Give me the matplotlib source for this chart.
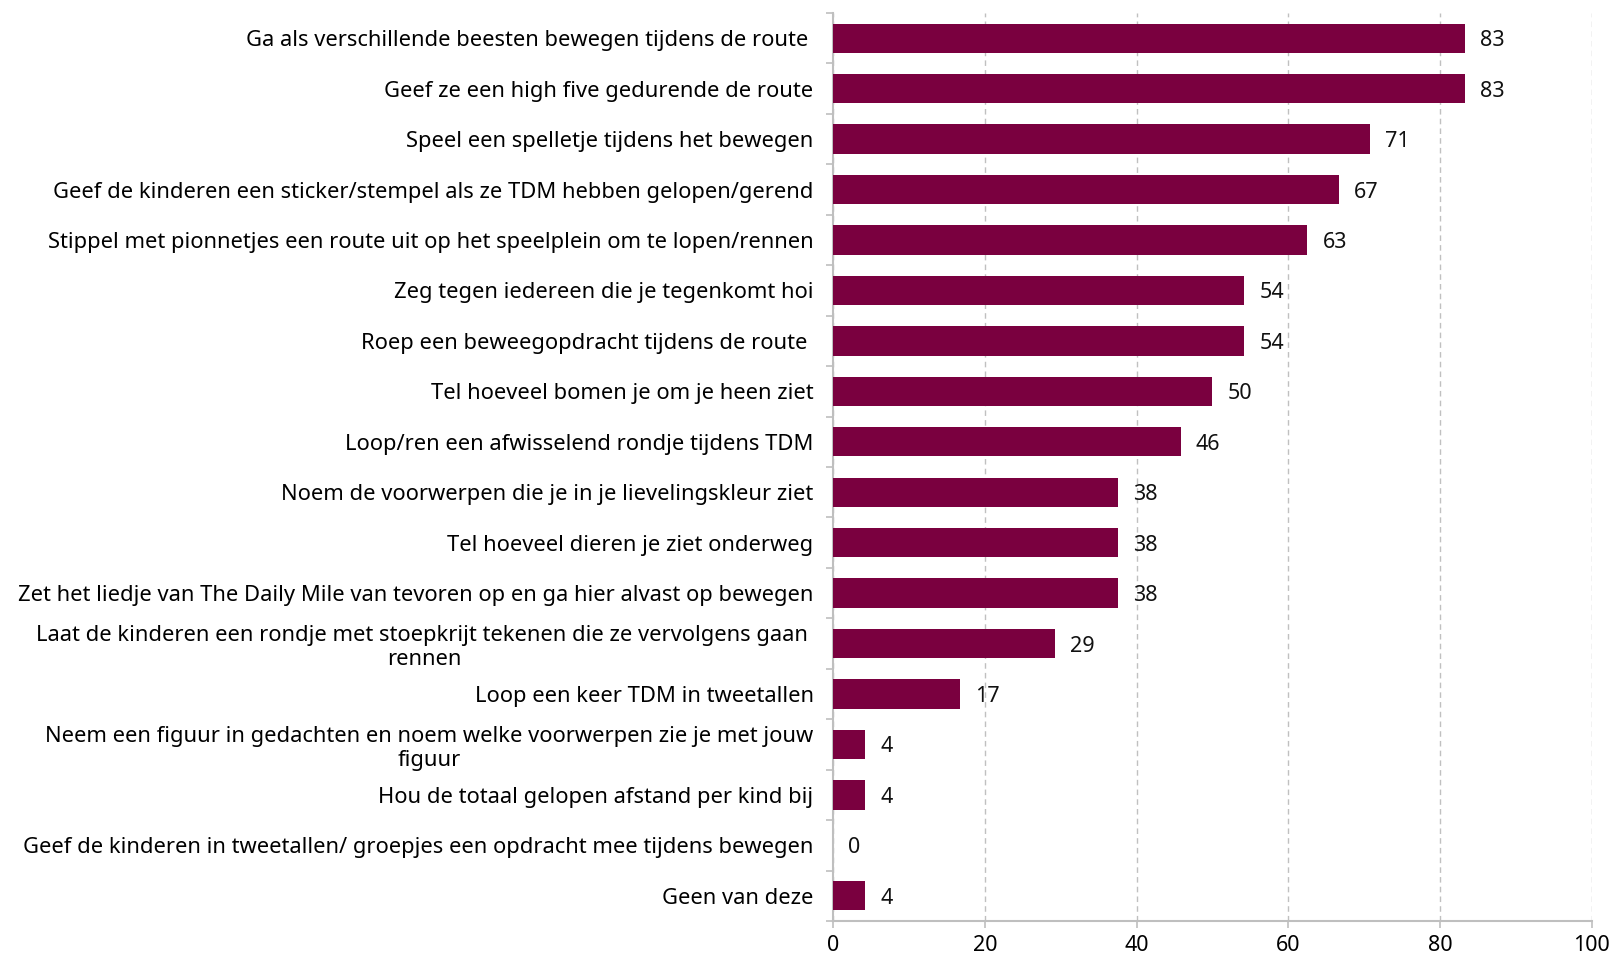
import matplotlib
matplotlib.use('Agg')
import matplotlib.pyplot as plt

plt.rcParams['font.family'] = ['Noto Sans', 'DejaVu Sans']

categories = [
    'Ga als verschillende beesten bewegen tijdens de route ',
    'Geef ze een high five gedurende de route',
    'Speel een spelletje tijdens het bewegen',
    'Geef de kinderen een sticker/stempel als ze TDM hebben gelopen/gerend',
    'Stippel met pionnetjes een route uit op het speelplein om te lopen/rennen',
    'Zeg tegen iedereen die je tegenkomt hoi',
    'Roep een beweegopdracht tijdens de route ',
    'Tel hoeveel bomen je om je heen ziet',
    'Loop/ren een afwisselend rondje tijdens TDM',
    'Noem de voorwerpen die je in je lievelingskleur ziet',
    'Tel hoeveel dieren je ziet onderweg',
    'Zet het liedje van The Daily Mile van tevoren op en ga hier alvast op bewegen',
    'Laat de kinderen een rondje met stoepkrijt tekenen die ze vervolgens gaan \nrennen',
    'Loop een keer TDM in tweetallen',
    'Neem een figuur in gedachten en noem welke voorwerpen zie je met jouw\nfiguur',
    'Hou de totaal gelopen afstand per kind bij',
    'Geef de kinderen in tweetallen/ groepjes een opdracht mee tijdens bewegen',
    'Geen van deze',
]
values = [83.3, 83.3, 70.8, 66.7, 62.5, 54.2, 54.2, 50.0, 45.8, 37.5, 37.5, 37.5,
          29.2, 16.7, 4.2, 4.2, 0.0, 4.2]
xticks = [0, 20, 40, 60, 80, 100]

fig = plt.figure(figsize=(16.16, 9.57), dpi=100)
ax = fig.add_axes([0.5155, 0.0376, 0.4695, 0.9488])

pos = list(range(len(categories)))
ax.barh(pos, values, height=0.58, color='#7a003f', linewidth=0, zorder=3)
ax.set_ylim(len(categories) - 0.5, -0.5)
ax.set_xlim(0, 100)

for p, v in zip(pos, values):
    ax.text(v + 2.0, p, f'{int(v + 0.5)}', va='center_baseline', ha='left',
            fontsize=15.5, color='#111111')

ax.set_yticks(pos)
ax.set_yticklabels(categories, fontsize=15.8)
for lab in ax.get_yticklabels():
    lab.set_multialignment('center')
ax.set_yticks([p + 0.5 for p in [-1] + pos], minor=True)
ax.tick_params(axis='y', which='major', length=0, pad=14)
ax.tick_params(axis='y', which='minor', length=5, color='#bfbfbf', width=1.2)

ax.set_xticks(xticks)
ax.set_xticklabels([str(t) for t in xticks], fontsize=15.5)
ax.tick_params(axis='x', length=5, color='#bfbfbf', width=1.2, pad=5)

ax.grid(axis='x', color='#c0c0c0', linestyle=(0, (4, 3)), linewidth=1.0, zorder=0)
for s in ['top', 'right']:
    ax.spines[s].set_visible(False)
for s in ['left', 'bottom']:
    ax.spines[s].set_color('#bfbfbf')
    ax.spines[s].set_linewidth(1.5)

fig.savefig('out.png', dpi=100)
